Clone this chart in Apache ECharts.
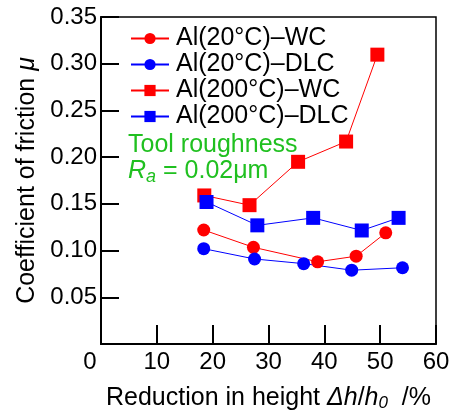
<!DOCTYPE html>
<html>
<head>
<meta charset="utf-8">
<script src="https://cdn.jsdelivr.net/npm/echarts@6/dist/echarts.min.js"></script>
<style>
  html, body { margin: 0; padding: 0; background: #fff; }
  #chart { width: 463px; height: 417px; }
</style>
</head>
<body>
<div id="chart"></div>
<script>
const xTicks = [0, 10, 20, 30, 40, 50, 60];
const yTicks = [0.05, 0.10, 0.15, 0.20, 0.25, 0.30, 0.35];

const al20WC = [[18.4, 0.122], [27.3, 0.1035], [38.8, 0.088], [45.7, 0.094], [51.0, 0.119]];
const al20DLC = [[18.4, 0.102], [27.5, 0.091], [36.3, 0.086], [44.9, 0.079], [54.0, 0.0816]];
const al200WC = [[18.5, 0.159], [26.6, 0.1486], [35.3, 0.195], [43.9, 0.2167], [49.5, 0.3097]];
const al200DLC = [[18.9, 0.152], [28.0, 0.127], [38.0, 0.135], [46.7, 0.1215], [53.3, 0.135]];

const FONT = "'Liberation Sans', Arial, sans-serif";
const RED = "#ff0000";
const BLUE = "#0000ff";
const GREEN = "#20c020";

const chart = echarts.init(document.getElementById("chart"));

function series(name, data, color, symbol, size) {
  return {
    name,
    type: "line",
    data,
    symbol,
    symbolSize: size,
    itemStyle: { color },
    lineStyle: { color, width: 1 },
    animation: false,
  };
}

chart.setOption({
  animation: false,
  textStyle: { fontFamily: FONT },
  grid: {
    left: 101, right: 27, top: 17, bottom: 64,
    show: true, borderColor: "#000", borderWidth: 1.5,
  },
  legend: {
    orient: "vertical",
    left: 125,
    top: 21,
    itemWidth: 38,
    itemHeight: 14,
    itemGap: 1,
    textStyle: { fontSize: 25, color: "#000", lineHeight: 25, padding: [0, 0, 0, 2] },
    data: ["Al(20°C)–WC", "Al(20°C)–DLC", "Al(200°C)–WC", "Al(200°C)–DLC"],
  },
  xAxis: {
    type: "value",
    min: xTicks[0],
    max: xTicks[xTicks.length - 1],
    interval: 10,
    name: "Reduction in height {i|Δh}/{i|h}{sub|0}  /%",
    nameLocation: "middle",
    nameGap: 40,
    nameTextStyle: {
      fontSize: 25, color: "#000",
      rich: {
        i: { fontSize: 25, fontStyle: "italic", color: "#000" },
        sub: { fontSize: 17, fontStyle: "italic", color: "#000", padding: [11, 0, 0, 0] },
      },
    },
    axisLine: { lineStyle: { color: "#000", width: 2 } },
    axisTick: { inside: true, length: 19, lineStyle: { color: "#000", width: 2 } },
    splitLine: { show: false },
    axisLabel: {
      fontSize: 24, color: "#000", margin: 6,
      formatter: (v) => (v === 0 ? "{z|0}" : String(v)),
      rich: { z: { fontSize: 24, color: "#000", padding: [0, 22, 0, 0] } },
    },
  },
  yAxis: {
    type: "value",
    min: 0,
    max: yTicks[yTicks.length - 1],
    interval: 0.05,
    name: "Coefficient of friction {i|μ}",
    nameLocation: "middle",
    nameGap: 59,
    nameTextStyle: {
      fontSize: 25, color: "#000",
      rich: { i: { fontSize: 25, fontStyle: "italic", color: "#000" } },
    },
    axisLine: { show: true, lineStyle: { color: "#000", width: 2 } },
    axisTick: { show: true, inside: true, length: 18, lineStyle: { color: "#000", width: 2 } },
    splitLine: { show: false },
    axisLabel: {
      fontSize: 24, color: "#000", margin: 4,
      formatter: (v) => (v === 0 ? "" : v.toFixed(2)),
    },
  },
  graphic: [
    {
      type: "text",
      left: 128,
      top: 132,
      style: {
        text: "Tool roughness\n{i|R}{sub|a} = 0.02μm",
        fill: GREEN,
        font: "25px " + FONT,
        lineHeight: 26,
        rich: {
          i: { fill: GREEN, fontSize: 25, fontStyle: "italic", fontFamily: FONT },
          sub: { fill: GREEN, fontSize: 18, fontStyle: "italic", fontFamily: FONT, padding: [11, 0, 0, 0] },
        },
      },
    },
  ],
  series: [
    series("Al(20°C)–WC", al20WC, RED, "circle", 13),
    series("Al(20°C)–DLC", al20DLC, BLUE, "circle", 13),
    series("Al(200°C)–WC", al200WC, RED, "rect", 14),
    series("Al(200°C)–DLC", al200DLC, BLUE, "rect", 14),
  ],
});
</script>
</body>
</html>
